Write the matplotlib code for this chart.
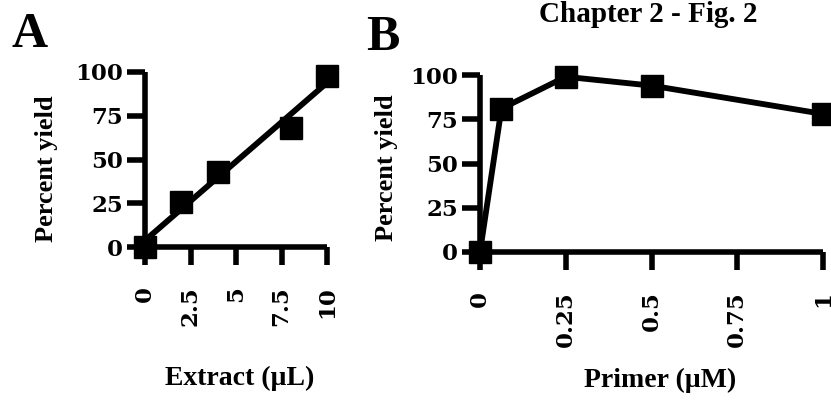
import matplotlib
matplotlib.use("Agg")
import matplotlib.pyplot as plt
import numpy as np

# panel A data
extract_ul = [0, 2, 4, 8, 10]
yield_a = [0, 26, 43, 68, 98]
xticks_a = [0, 2.5, 5, 7.5, 10]
xticklabels_a = ["0", "2.5", "5", "7.5", "10"]

# panel B data
primer_um = [0, 0.0625, 0.25, 0.5, 1.0]
yield_b = [0, 81, 99, 94, 78]
xticks_b = [0, 0.25, 0.5, 0.75, 1.0]
xticklabels_b = ["0", "0.25", "0.5", "0.75", "1"]

yticks = [0, 25, 50, 75, 100]

W, H = 831, 401
fig = plt.figure(figsize=(W / 100, H / 100), dpi=100)

def box(x0, x1, ytop, ybot):
    # pixel box -> figure fraction
    return [x0 / W, 1 - ybot / H, (x1 - x0) / W, (ybot - ytop) / H]

def px(x, y):
    return x / W, 1 - y / H

serif = "Liberation Serif"
tickfont = dict(family="DejaVu Serif", weight="bold", size=16.5)

def style(ax, xt, xtl, xlim):
    ax.set_xlim(*xlim)
    ax.set_ylim(0, 100)
    for s in ["top", "right"]:
        ax.spines[s].set_visible(False)
    for s in ["left", "bottom"]:
        ax.spines[s].set_linewidth(4)
        ax.spines[s].set_capstyle("butt")
    ax.set_xticks(xt)
    ax.set_xticklabels(xtl, rotation=90, va="top", fontdict=tickfont)
    ax.set_yticks(yticks)
    ax.set_yticklabels([str(v) for v in yticks], fontdict=tickfont)
    ax.tick_params(axis="both", direction="out", length=13, width=4)
    ax.tick_params(axis="x", pad=15)
    ax.tick_params(axis="y", pad=3)

# ---- panel A
axa = fig.add_axes(box(145, 327, 72, 247))
slope, icpt = np.polyfit(extract_ul, yield_a, 1)
xx = np.array([0, 10])
axa.plot(xx, slope * xx + icpt, color="black", lw=4.2, clip_on=False, solid_capstyle="butt")
axa.plot(extract_ul, yield_a, "s", color="black", ms=15.5, clip_on=False, zorder=5)
style(axa, xticks_a, xticklabels_a, (0, 10))

# ---- panel B
axb = fig.add_axes(box(480, 823, 75, 252))
axb.plot(primer_um, yield_b, "s-", color="black", lw=4.2, ms=15.5, clip_on=False, zorder=5)
style(axb, xticks_b, xticklabels_b, (0, 1))

# labels
fig.text(*px(47, 169), "Percent yield", rotation=90, ha="center", va="center",
         family=serif, weight="bold", fontsize=19)
fig.text(*px(386, 168), "Percent yield", rotation=90, ha="center", va="center",
         family=serif, weight="bold", fontsize=19)
fig.text(*px(240, 378), "Extract (\u00b5L)", ha="center", va="center",
         family=serif, weight="bold", fontsize=20)
fig.text(*px(660, 380), "Primer (\u00b5M)", ha="center", va="center",
         family=serif, weight="bold", fontsize=20)
fig.text(*px(648, 22), "Chapter 2 - Fig. 2", ha="center", va="baseline",
         family=serif, weight="bold", fontsize=21)
fig.text(*px(12, 47), "A", ha="left", va="baseline",
         family=serif, weight="bold", fontsize=36)
fig.text(*px(366, 50), "B", ha="left", va="baseline",
         family=serif, weight="bold", fontsize=36)

fig.savefig("out.png", dpi=100)
